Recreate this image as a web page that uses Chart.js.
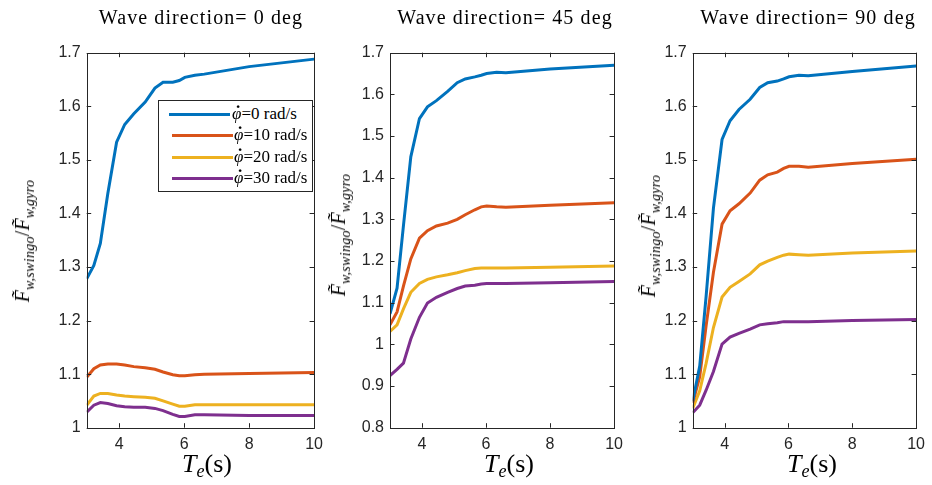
<!DOCTYPE html>
<html><head><meta charset="utf-8">
<script src="https://cdn.jsdelivr.net/npm/chart.js@4"></script>
<style>
html,body{margin:0;padding:0;background:#fff;}
body{width:932px;height:485px;position:relative;overflow:hidden;font-family:"Liberation Serif","DejaVu Serif",serif;color:#000;}
canvas{position:absolute;top:0;}
.ttl{position:absolute;top:5px;font-size:20px;letter-spacing:1.1px;white-space:nowrap;transform:translateX(-50%);line-height:24px;}
.xlab{position:absolute;top:450px;font-size:26px;white-space:nowrap;transform:translateX(-50%);line-height:28px;}
.xlab i{font-style:italic;}
.xlab sub{font-size:18px;vertical-align:-5px;line-height:0;}
.ylab{position:absolute;font-size:20px;white-space:nowrap;line-height:24px;transform:translate(-50%,-50%) rotate(-90deg);}
.ylab sub{font-size:14px;vertical-align:-5px;line-height:0;font-style:italic;letter-spacing:0.3px;}
.legend{position:absolute;left:158px;top:100px;width:153px;height:90px;border:1px solid #262626;background:#fff;}
.lg{position:absolute;height:3px;}
.lt{position:absolute;font-size:17px;white-space:nowrap;line-height:20px;}
.phi{position:relative;display:inline-block;font-style:italic;}
.phi .dot{position:absolute;left:4px;top:-11px;font-style:normal;font-weight:bold;}
</style>
</head><body>
<canvas id="c0"></canvas><canvas id="c1"></canvas><canvas id="c2"></canvas>
<div id="overlay"></div>
<script>
// ---- data ----
const te = [3, 3.22, 3.42, 3.65, 3.92, 4.17, 4.45, 4.8, 5.1, 5.35, 5.65, 5.85, 6.02, 6.33, 6.62, 8, 10];
const rateLabels = ["0", "10", "20", "30"];
const panelTitles = ["Wave direction= 0 deg", "Wave direction= 45 deg", "Wave direction= 90 deg"];
const xTicks = [4, 6, 8, 10];
const yTicks0 = [1, 1.1, 1.2, 1.3, 1.4, 1.5, 1.6, 1.7];
const yTicks45 = [0.8, 0.9, 1, 1.1, 1.2, 1.3, 1.4, 1.5, 1.6, 1.7];
const yTicks90 = [1, 1.1, 1.2, 1.3, 1.4, 1.5, 1.6, 1.7];

// wave direction 0 deg
const dir0_rate0  = [1.278, 1.303, 1.344, 1.437, 1.533, 1.566, 1.586, 1.608, 1.634, 1.645, 1.645, 1.648, 1.654, 1.658, 1.660, 1.674, 1.688];
const dir0_rate10 = [1.094, 1.110, 1.117, 1.119, 1.119, 1.117, 1.114, 1.112, 1.109, 1.104, 1.099, 1.097, 1.097, 1.099, 1.100, 1.101, 1.103];
const dir0_rate20 = [1.042, 1.059, 1.064, 1.064, 1.061, 1.059, 1.058, 1.057, 1.055, 1.050, 1.044, 1.040, 1.040, 1.043, 1.043, 1.043, 1.043];
const dir0_rate30 = [1.029, 1.042, 1.047, 1.045, 1.041, 1.039, 1.038, 1.038, 1.036, 1.032, 1.025, 1.021, 1.021, 1.024, 1.024, 1.023, 1.023];
// wave direction 45 deg
const dir45_rate0  = [1.073, 1.135, 1.285, 1.450, 1.542, 1.570, 1.585, 1.607, 1.628, 1.637, 1.642, 1.646, 1.650, 1.653, 1.652, 1.661, 1.670];
const dir45_rate10 = [1.047, 1.078, 1.140, 1.205, 1.255, 1.273, 1.284, 1.291, 1.300, 1.311, 1.323, 1.330, 1.332, 1.330, 1.329, 1.334, 1.340];
const dir45_rate20 = [1.031, 1.047, 1.085, 1.125, 1.146, 1.156, 1.162, 1.167, 1.172, 1.177, 1.182, 1.183, 1.183, 1.183, 1.183, 1.185, 1.188];
const dir45_rate30 = [0.925, 0.940, 0.955, 1.013, 1.065, 1.099, 1.113, 1.125, 1.134, 1.140, 1.142, 1.145, 1.146, 1.146, 1.146, 1.148, 1.151];
// wave direction 90 deg
const dir90_rate0  = [1.049, 1.115, 1.245, 1.410, 1.538, 1.573, 1.594, 1.613, 1.635, 1.644, 1.647, 1.651, 1.655, 1.658, 1.657, 1.665, 1.675];
const dir90_rate10 = [1.046, 1.095, 1.190, 1.290, 1.380, 1.405, 1.418, 1.438, 1.462, 1.472, 1.477, 1.484, 1.488, 1.488, 1.486, 1.493, 1.501];
const dir90_rate20 = [1.036, 1.069, 1.120, 1.187, 1.244, 1.262, 1.273, 1.287, 1.304, 1.311, 1.318, 1.322, 1.324, 1.323, 1.322, 1.326, 1.330];
const dir90_rate30 = [1.028, 1.042, 1.070, 1.105, 1.156, 1.169, 1.176, 1.184, 1.192, 1.194, 1.196, 1.198, 1.198, 1.198, 1.198, 1.200, 1.202];

// ---- styling / layout ----
const colors = ["#0072BD", "#D95319", "#EDB120", "#7E2F8E"];
const axisColor = "#262626";
const panels = [
  {id: "c0", left: 0,   width: 330, yW: 86.7, padR: 13.3, ymin: 1,   ymax: 1.7, yTicks: yTicks0,  series: [dir0_rate0, dir0_rate10, dir0_rate20, dir0_rate30]},
  {id: "c1", left: 300, width: 330, yW: 90,   padR: 10,   ymin: 0.8, ymax: 1.7, yTicks: yTicks45, series: [dir45_rate0, dir45_rate10, dir45_rate20, dir45_rate30]},
  {id: "c2", left: 610, width: 322, yW: 82.7, padR: 8.7,  ymin: 1,   ymax: 1.7, yTicks: yTicks90, series: [dir90_rate0, dir90_rate10, dir90_rate20, dir90_rate30]}
];
const topPad = 52.7, xH = 57.3, H = 485;

const boxTicks = {
  id: "boxTicks",
  afterDraw(chart) {
    const {ctx, chartArea: a, scales} = chart;
    ctx.save();
    ctx.strokeStyle = axisColor;
    ctx.lineWidth = 1;
    ctx.strokeRect(Math.round(a.left) + 0.5, Math.round(a.top) + 0.5, Math.round(a.right - a.left), Math.round(a.bottom - a.top));
    const L = 4.5;
    ctx.beginPath();
    scales.x.ticks.forEach(t => {
      const p = Math.round(scales.x.getPixelForValue(t.value)) + 0.5;
      ctx.moveTo(p, a.bottom); ctx.lineTo(p, a.bottom - L);
      ctx.moveTo(p, a.top); ctx.lineTo(p, a.top + L);
    });
    scales.y.ticks.forEach(t => {
      const p = Math.round(scales.y.getPixelForValue(t.value)) + 0.5;
      ctx.moveTo(a.left, p); ctx.lineTo(a.left + L, p);
      ctx.moveTo(a.right, p); ctx.lineTo(a.right - L, p);
    });
    ctx.stroke();
    ctx.restore();
  }
};

panels.forEach(p => {
  const cv = document.getElementById(p.id);
  cv.style.left = p.left + "px";
  cv.style.width = p.width + "px";
  cv.style.height = H + "px";
  cv.width = p.width; cv.height = H;
  new Chart(cv, {
    type: "line",
    data: {
      datasets: p.series.map((s, i) => ({
        label: rateLabels[i],
        data: te.map((x, j) => ({x: x, y: s[j]})),
        borderColor: colors[i],
        backgroundColor: colors[i],
        borderWidth: 3,
        pointRadius: 0,
        tension: 0,
        fill: false
      }))
    },
    options: {
      responsive: false,
      animation: false,
      devicePixelRatio: 1,
      layout: {padding: {left: 0, right: p.padR, top: topPad, bottom: 0}},
      plugins: {legend: {display: false}, tooltip: {enabled: false}},
      scales: {
        x: {
          type: "linear", min: 3, max: 10,
          afterBuildTicks: s => { s.ticks = xTicks.map(v => ({value: v})); },
          afterFit: s => { s.height = xH; },
          grid: {display: false, drawTicks: false},
          border: {display: false},
          ticks: {color: axisColor, font: {family: "Liberation Sans", size: 16}, padding: 7, maxRotation: 0,
                  callback: v => String(v)}
        },
        y: {
          type: "linear", min: p.ymin, max: p.ymax,
          afterBuildTicks: s => { s.ticks = p.yTicks.map(v => ({value: v})); },
          afterFit: s => { s.width = p.yW; },
          grid: {display: false, drawTicks: false},
          border: {display: false},
          ticks: {color: axisColor, font: {family: "Liberation Sans", size: 16}, padding: 6,
                  callback: v => String(Math.round(v * 10) / 10)}
        }
      }
    },
    plugins: [boxTicks]
  });
});

// ---- text overlays ----
const ov = document.getElementById("overlay");
const titleX = [201, 505, 808];
const xlabX = [207, 509, 812];
const ylabPos = [[22, 241], [338, 235], [648, 236]];
let html = "";
panelTitles.forEach((t, i) => { html += `<div class="ttl" style="left:${titleX[i]}px">${t}</div>`; });
xlabX.forEach(x => { html += `<div class="xlab" style="left:${x}px"><i>T</i><sub><i>e</i></sub>(s)</div>`; });
ylabPos.forEach(([x, y]) => {
  html += `<div class="ylab" style="left:${x}px;top:${y}px"><i>F&#771;</i><sub>w,swingo</sub>/<i>F&#771;</i><sub>w,gyro</sub></div>`;
});
// legend
const lgY = [13, 34, 56, 77];
let lg = `<div class="legend">`;
rateLabels.forEach((r, i) => {
  const x0 = i === 0 ? 10 : 13;
  lg += `<div class="lg" style="left:${x0}px;width:${61}px;top:${lgY[i]-1.5}px;background:${colors[i]}"></div>`;
  lg += `<div class="lt" style="left:${i === 0 ? 73 : 75}px;top:${lgY[i]-10}px"><span class="phi">φ<span class="dot">.</span></span>=${r} rad/s</div>`;
});
lg += `</div>`;
html += lg;
ov.innerHTML = html;
</script>
</body></html>
